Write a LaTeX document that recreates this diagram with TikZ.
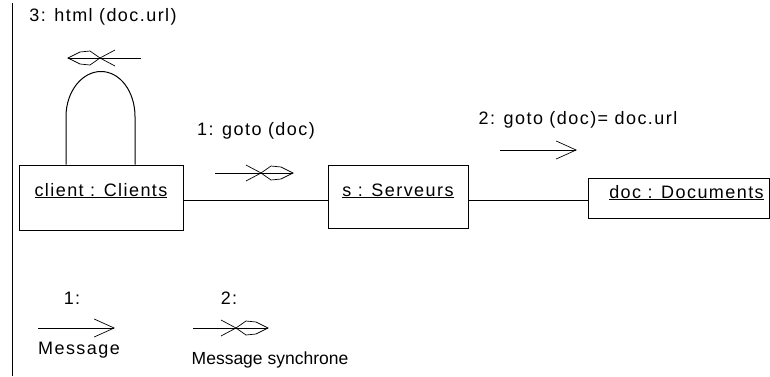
\documentclass[tikz,border=0pt]{standalone}
\usepackage{fontspec}
\setmainfont{Liberation Sans}[LetterSpace=8]
\usetikzlibrary{arrows.meta,calc}

\tikzset{
  obj/.style={draw,line width=1pt,inner sep=0pt},
  link/.style={line width=1pt},
  msg/.style={line width=1pt,-{Straight Barb[length=20pt,width=18pt,line width=0.7pt]}},
  barb/.style={line width=0.7pt},
}
% synchronous message mark, tip at #1, direction #2 (1 right, -1 left)
\newcommand{\syncmark}[2]{%
  \begin{scope}[shift={(#1)},xscale=#2]
    \draw[barb] (-47,-8) -- (-32,0) -- (-22,7) -- (-12,6) -- (0,0) -- (-12,-6) -- (-22,-7) -- (-32,0) -- (-47,8);
  \end{scope}}

\begin{document}
\begin{tikzpicture}[x=1pt,y=-1pt,font=\fontsize{18}{21}\selectfont]
    \useasboundingbox (0,0) rectangle (770,376);
    \draw[link] (12,3) -- (12,376);

    % objects
    \node[obj,minimum width=164pt,text height=31pt,text depth=34pt] (client) at (101,197.5) {\underline{client : Clients}};
    \node[obj,minimum width=140pt,text height=31pt,text depth=32pt] (serv) at (398,196.5) {\underline{s : Serveurs}};
    \node[obj,minimum width=181pt,text height=20pt,text depth=20pt] (doc) at (678.5,198) {\hspace*{16pt}\underline{doc : Documents}};

    % links
    \draw[link] ([yshift=-2.5pt]client.east) -- ([yshift=-3.5pt]serv.west);
    \draw[link] ([yshift=-3.5pt]serv.east) -- ([yshift=-2pt]doc.west);

    % self link
    \coordinate (loopL) at ($(client.north)+(-35,0)$);
    \coordinate (loopR) at ($(client.north)+(34,0)$);
    \coordinate (loopT) at ($(client.north)+(0,-93)$);
    \draw[link] (loopL) -- ($(loopL)+(0,-48)$) .. controls ($(loopL)+(0,-73)$) and ($(loopT)+(-19,0)$) .. (loopT)
      .. controls ($(loopT)+(19,0)$) and ($(loopR)+(0,-73)$) .. ($(loopR)+(0,-48)$) -- (loopR);

    % messages
    \node (m3) at (103,17) {3: html (doc.url)};
    \coordinate (m3a) at (141,58);
    \coordinate (m3b) at (68,58);
    \draw[link] (m3a) -- (m3b);
    \syncmark{m3b}{-1}

    \node (m1) at (256,131) {1: goto (doc)};
    \coordinate (m1a) at (215,173);
    \coordinate (m1b) at (293,173);
    \draw[link] (m1a) -- (m1b);
    \syncmark{m1b}{1}

    \node (m2) at (578,120) {2: goto (doc)= doc.url};
    \coordinate (m2a) at (500,150);
    \coordinate (m2b) at (577,150);
    \draw[msg] (m2a) -- (m2b);

    % legend
    \node (k1) at (72,298) {1:};
    \coordinate (k1a) at (38,328);
    \coordinate (k1b) at (115,328);
    \draw[msg] (k1a) -- (k1b);
    \node (k1t) at (79,350) {Message};

    \node (k2) at (229,298) {2:};
    \coordinate (k2a) at (193,328);
    \coordinate (k2b) at (268,328);
    \draw[link] (k2a) -- (k2b);
    \syncmark{k2b}{1}
    \node[font=\fontsize{17.5}{21}\selectfont\addfontfeature{LetterSpace=0}] (k2t) at (270,360) {Message synchrone};
\end{tikzpicture}
\end{document}
